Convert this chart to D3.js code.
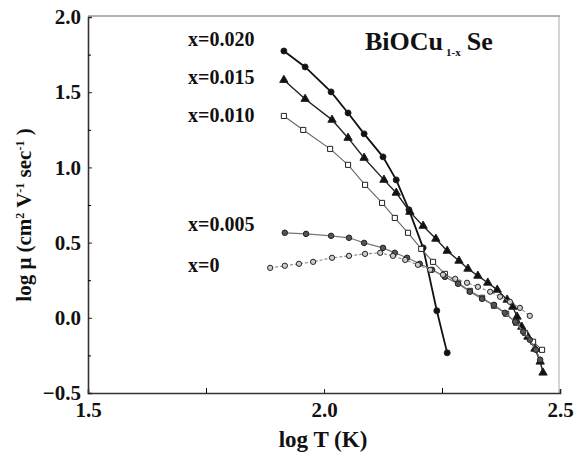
<!DOCTYPE html>
<html><head><meta charset="utf-8">
<script src="https://cdn.jsdelivr.net/npm/d3@7"></script>
<style>
html,body{margin:0;padding:0;background:#fff;}
text{font-family:"Liberation Serif","DejaVu Serif",serif;font-weight:bold;fill:#111;}
</style></head>
<body><svg id="c" width="576" height="457"></svg>
<script>
// ---- data (log T, log mu) ----
const seriesNames = ["x=0.020","x=0.015","x=0.010","x=0.005","x=0"];
const logT_020 = [1.915,1.960,2.015,2.051,2.085,2.125,2.153,2.180,2.210,2.239,2.261];
const logMu_020 = [1.774,1.668,1.502,1.362,1.223,1.070,0.917,0.718,0.465,0.047,-0.233];
const logT_015 = [1.915,1.960,2.017,2.051,2.085,2.127,2.153,2.182,2.210,2.237,2.261,2.286,2.305,2.326,2.347,2.367,2.388,2.400,2.409,2.419,2.432,2.447,2.458,2.464];
const logMu_015 = [1.581,1.455,1.316,1.196,1.063,0.917,0.831,0.704,0.611,0.525,0.445,0.379,0.326,0.279,0.233,0.186,0.120,0.073,0.007,-0.060,-0.126,-0.206,-0.292,-0.365];
const logT_010 = [1.915,1.956,2.013,2.051,2.087,2.123,2.150,2.178,2.206,2.231,2.256,2.284,2.309,2.335,2.360,2.386,2.407,2.426,2.443,2.462];
const logMu_010 = [1.342,1.249,1.123,1.017,0.884,0.764,0.664,0.565,0.458,0.372,0.292,0.233,0.179,0.133,0.080,0.027,-0.033,-0.100,-0.159,-0.213];
const logT_005 = [1.917,1.962,2.015,2.053,2.085,2.125,2.150,2.176,2.203,2.229,2.256,2.284,2.309,2.335,2.360,2.383,2.405,2.422,2.436,2.449,2.458];
const logMu_005 = [0.565,0.558,0.545,0.532,0.498,0.465,0.432,0.399,0.359,0.319,0.272,0.226,0.173,0.126,0.086,0.033,-0.027,-0.093,-0.146,-0.213,-0.279];
const logT_000 = [1.886,1.917,1.947,1.977,2.017,2.053,2.087,2.119,2.146,2.172,2.199,2.225,2.252,2.278,2.303,2.326,2.352,2.373,2.394,2.415,2.436];
const logMu_000 = [0.332,0.346,0.359,0.372,0.399,0.412,0.425,0.432,0.412,0.385,0.352,0.319,0.286,0.259,0.233,0.206,0.173,0.140,0.106,0.066,0.013];
const xTicks = [1.5,2.0,2.5];
const xMinor = [1.75,2.25];
const yTicks = [-0.5,0.0,0.5,1.0,1.5,2.0];
const yMinor = [-0.25,0.25,0.75,1.25,1.75];

const svg = d3.select("#c");
const x = d3.scaleLinear().domain([1.5,2.5]).range([88,560]);
const y = d3.scaleLinear().domain([-0.5,2.0]).range([393,17]);
const FONT = '"Liberation Serif","DejaVu Serif",serif';

// frame
svg.append("line").attr("x1",88).attr("x2",560).attr("y1",16).attr("y2",16).attr("stroke","#999").attr("stroke-width",1.5);
svg.append("line").attr("x1",559).attr("x2",559).attr("y1",16).attr("y2",393).attr("stroke","#aaa").attr("stroke-width",1);

const xAxis = d3.axisBottom(x).tickValues(xTicks).tickSize(-4).tickFormat(d3.format(".1f"));
const gx = svg.append("g").attr("transform","translate(0,393)").call(xAxis);
gx.attr("font-family",FONT);
gx.select(".domain").attr("stroke","#333").attr("stroke-width",1.6);
gx.selectAll(".tick line").attr("stroke","#222");
gx.selectAll(".tick text").attr("y",9).attr("dy","0.71em").style("font-size","21px").attr("fill","#111");
const gxm = svg.append("g").attr("transform","translate(0,393)").call(d3.axisBottom(x).tickValues(xMinor).tickSize(-5).tickFormat(""));
gxm.select(".domain").remove();

const yAxis = d3.axisLeft(y).tickValues(yTicks).tickSize(-4).tickFormat(d3.format(".1f"));
const gy = svg.append("g").attr("transform","translate(88,0)").call(yAxis);
gy.attr("font-family",FONT);
gy.select(".domain").attr("stroke","#333").attr("stroke-width",1.6);
gy.selectAll(".tick line").attr("stroke","#222");
gy.selectAll(".tick text").attr("x",-7).style("font-size","21px").attr("fill","#111");
const gym = svg.append("g").attr("transform","translate(88,0)").call(d3.axisLeft(y).tickValues(yMinor).tickSize(-3).tickFormat(""));
gym.select(".domain").remove();

// axis titles
svg.append("text").attr("x",323).attr("y",447).attr("text-anchor","middle").style("font-size","23px").text("log T (K)");
const yt = svg.append("text").attr("transform","translate(31,215) rotate(-90)").attr("text-anchor","middle").style("font-size","21px");
yt.append("tspan").text("log μ (cm");
yt.append("tspan").attr("baseline-shift","super").style("font-size","12px").text("2");
yt.append("tspan").text(" V");
yt.append("tspan").attr("baseline-shift","super").style("font-size","12px").text("-1");
yt.append("tspan").text(" sec");
yt.append("tspan").attr("baseline-shift","super").style("font-size","12px").text("-1");
yt.append("tspan").text(" )");

// title
const tt = svg.append("text").attr("x",365).attr("y",50).style("font-size","26px");
tt.append("tspan").text("BiOCu");
tt.append("tspan").attr("baseline-shift","sub").style("font-size","11px").attr("dx",3).text("1-x");
tt.append("tspan").attr("dx",6).text("Se");

// series
const series = [
  {name:seriesNames[0], t:logT_020, m:logMu_020, stroke:"#111", w:1.8, dash:null, sym:d3.symbolCircle, fill:"#111", size:28, ly:46},
  {name:seriesNames[1], t:logT_015, m:logMu_015, stroke:"#222", w:1.4, dash:null, sym:d3.symbolTriangle, fill:"#111", size:30, ly:84},
  {name:seriesNames[2], t:logT_010, m:logMu_010, stroke:"#666", w:1.1, dash:null, sym:d3.symbolSquare, fill:"#fff", size:26, ly:122},
  {name:seriesNames[3], t:logT_005, m:logMu_005, stroke:"#777", w:1.2, dash:null, sym:d3.symbolCircle, fill:"#555", size:24, ly:231},
  {name:seriesNames[4], t:logT_000, m:logMu_000, stroke:"#888", w:1.1, dash:"3,2", sym:d3.symbolCircle, fill:"#ccc", size:22, ly:272}
];
const line = d3.line().x(d=>x(d[0])).y(d=>y(d[1]));
series.forEach(s=>{
  const pts = s.t.map((t,i)=>[t,s.m[i]]);
  svg.append("path").datum(pts).attr("d",line).attr("fill","none").attr("stroke",s.stroke).attr("stroke-width",s.w).attr("stroke-dasharray",s.dash);
  svg.append("g").selectAll("path").data(pts).join("path")
    .attr("transform",d=>`translate(${x(d[0])},${y(d[1])})`)
    .attr("d",d3.symbol().type(s.sym).size(s.size))
    .attr("fill",s.fill).attr("stroke","#222").attr("stroke-width",1);
  svg.append("text").attr("x",188).attr("y",s.ly).style("font-size","20px").text(s.name);
});
</script></body></html>
